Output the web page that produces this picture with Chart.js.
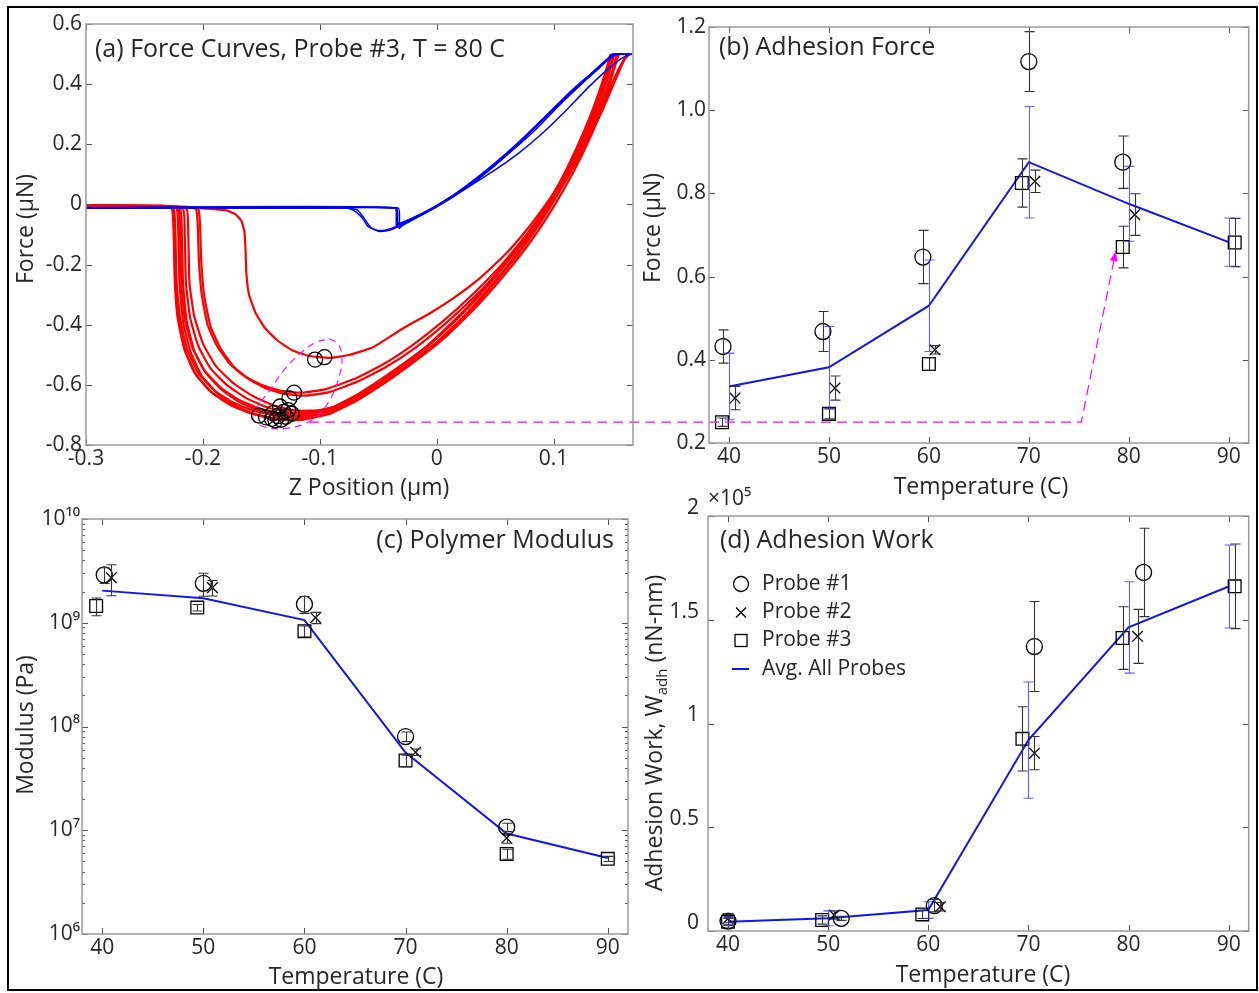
<!DOCTYPE html>
<html>
<head>
<meta charset="utf-8">
<script src="https://cdn.jsdelivr.net/npm/chart.js@4.4.1/dist/chart.umd.min.js"></script>
<style>
  html, body { margin: 0; padding: 0; background: #fff; }
  #page { position: relative; width: 1259px; height: 993px; overflow: hidden; }
  #page canvas { position: absolute; left: 0; top: 0; }
  #frame { position: absolute; left: 7px; top: 6px; width: 1251px; height: 985px; border: 2px solid #000; box-sizing: border-box; }
</style>
</head>
<body>
<div id="page">
  <div id="frame"></div>
  <canvas id="chartA" width="1259" height="993"></canvas>
  <canvas id="chartB" width="1259" height="993"></canvas>
  <canvas id="chartC" width="1259" height="993"></canvas>
  <canvas id="chartD" width="1259" height="993"></canvas>
</div>
<script>
"use strict";

const W = 1259, H = 993;
const FONT = "'Open Sans', 'DejaVu Sans', sans-serif";
const TEXT = '#262626';

// ---------- (a) force curves, probe #3, T = 80 C ----------
const zTicks = [-0.3, -0.2, -0.1, 0, 0.1];
const forceTicksA = [-0.8, -0.6, -0.4, -0.2, 0, 0.2, 0.4, 0.6];

// retraction curves (z, force)
const retractM1 = [[-0.300,-0.004],[-0.235,-0.006],[-0.2265,-0.015],[-0.2250,-0.10],[-0.2240,-0.26],[-0.2215,-0.38],[-0.2160,-0.48],[-0.2070,-0.56],[-0.1940,-0.62],[-0.1780,-0.662],[-0.1600,-0.692],[-0.1400,-0.710],[-0.1200,-0.712],[-0.0950,-0.690],[-0.0700,-0.640],[-0.0400,-0.565],[-0.0100,-0.480],[0.0200,-0.370],[0.0450,-0.260],[0.0680,-0.150],[0.0880,-0.040],[0.1050,0.070],[0.1200,0.190],[0.1320,0.300],[0.1420,0.410],[0.1490,0.500]];
const retractM2 = [[-0.300,-0.004],[-0.235,-0.006],[-0.2250,-0.015],[-0.2235,-0.10],[-0.2225,-0.26],[-0.2195,-0.38],[-0.2135,-0.48],[-0.2040,-0.56],[-0.1905,-0.618],[-0.1745,-0.658],[-0.1565,-0.686],[-0.1370,-0.702],[-0.1170,-0.702],[-0.0920,-0.680],[-0.0670,-0.630],[-0.0370,-0.553],[-0.0070,-0.466],[0.0230,-0.355],[0.0480,-0.245],[0.0710,-0.135],[0.0910,-0.025],[0.1080,0.085],[0.1230,0.200],[0.1350,0.310],[0.1445,0.420],[0.1500,0.500]];
const retractM3 = [[-0.300,-0.005],[-0.235,-0.006],[-0.2225,-0.015],[-0.2210,-0.10],[-0.2200,-0.26],[-0.2170,-0.39],[-0.2105,-0.49],[-0.2010,-0.57],[-0.1870,-0.63],[-0.1710,-0.672],[-0.1530,-0.700],[-0.1340,-0.716],[-0.1140,-0.716],[-0.0900,-0.694],[-0.0660,-0.647],[-0.0380,-0.575],[-0.0080,-0.488],[0.0220,-0.378],[0.0470,-0.268],[0.0700,-0.158],[0.0900,-0.048],[0.1070,0.065],[0.1220,0.180],[0.1340,0.295],[0.1435,0.405],[0.1480,0.490]];
const retractM4 = [[-0.300,-0.004],[-0.235,-0.005],[-0.2210,-0.015],[-0.2195,-0.10],[-0.2185,-0.26],[-0.2155,-0.38],[-0.2090,-0.475],[-0.1990,-0.55],[-0.1850,-0.608],[-0.1690,-0.650],[-0.1510,-0.680],[-0.1320,-0.696],[-0.1120,-0.694],[-0.0870,-0.672],[-0.0620,-0.622],[-0.0330,-0.545],[-0.0030,-0.455],[0.0270,-0.343],[0.0520,-0.232],[0.0740,-0.122],[0.0930,-0.012],[0.1100,0.100],[0.1250,0.215],[0.1370,0.325],[0.1460,0.430],[0.1510,0.500]];
const retractM5 = [[-0.300,-0.005],[-0.235,-0.006],[-0.2195,-0.015],[-0.2180,-0.10],[-0.2170,-0.26],[-0.2140,-0.385],[-0.2075,-0.485],[-0.1975,-0.56],[-0.1835,-0.618],[-0.1675,-0.660],[-0.1495,-0.690],[-0.1305,-0.706],[-0.1105,-0.704],[-0.0860,-0.682],[-0.0610,-0.632],[-0.0320,-0.556],[-0.0020,-0.467],[0.0280,-0.355],[0.0530,-0.244],[0.0750,-0.133],[0.0940,-0.022],[0.1110,0.092],[0.1260,0.208],[0.1380,0.320],[0.1470,0.428],[0.1520,0.500]];
const retractM6 = [[-0.300,-0.004],[-0.235,-0.005],[-0.2170,-0.015],[-0.2155,-0.10],[-0.2145,-0.26],[-0.2110,-0.375],[-0.2040,-0.47],[-0.1935,-0.545],[-0.1790,-0.602],[-0.1625,-0.645],[-0.1440,-0.676],[-0.1250,-0.692],[-0.1050,-0.690],[-0.0810,-0.668],[-0.0570,-0.620],[-0.0290,-0.545],[0.0010,-0.455],[0.0310,-0.343],[0.0560,-0.232],[0.0780,-0.122],[0.0970,-0.010],[0.1140,0.105],[0.1290,0.222],[0.1410,0.335],[0.1500,0.440],[0.1540,0.500]];
const retractM7 = [[-0.300,-0.004],[-0.235,-0.005],[-0.2140,-0.015],[-0.2125,-0.10],[-0.2115,-0.26],[-0.2075,-0.37],[-0.2000,-0.462],[-0.1890,-0.537],[-0.1740,-0.594],[-0.1570,-0.638],[-0.1385,-0.670],[-0.1195,-0.686],[-0.0995,-0.684],[-0.0760,-0.662],[-0.0530,-0.615],[-0.0250,-0.540],[0.0050,-0.450],[0.0340,-0.340],[0.0590,-0.230],[0.0810,-0.120],[0.1000,-0.008],[0.1170,0.108],[0.1320,0.228],[0.1430,0.338],[0.1510,0.440],[0.1560,0.500]];
const retractM8 = [[-0.300,-0.005],[-0.235,-0.006],[-0.2260,-0.015],[-0.2245,-0.10],[-0.2235,-0.26],[-0.2205,-0.385],[-0.2150,-0.485],[-0.2060,-0.565],[-0.1925,-0.625],[-0.1765,-0.667],[-0.1585,-0.696],[-0.1390,-0.712],[-0.1190,-0.712],[-0.0940,-0.690],[-0.0690,-0.642],[-0.0400,-0.568],[-0.0100,-0.480],[0.0200,-0.370],[0.0460,-0.258],[0.0690,-0.147],[0.0890,-0.035],[0.1060,0.078],[0.1210,0.192],[0.1330,0.303],[0.1430,0.412],[0.1490,0.500]];
const retractB1 = [[-0.300,-0.004],[-0.240,-0.006],[-0.2150,-0.008],[-0.2060,-0.015],[-0.2045,-0.060],[-0.2035,-0.180],[-0.2010,-0.300],[-0.1960,-0.400],[-0.1880,-0.470],[-0.1770,-0.530],[-0.1640,-0.572],[-0.1500,-0.600],[-0.1330,-0.620],[-0.1150,-0.626],[-0.0950,-0.614],[-0.0700,-0.580],[-0.0450,-0.530],[-0.0200,-0.466],[0.0050,-0.390],[0.0300,-0.302],[0.0550,-0.203],[0.0770,-0.100],[0.0960,0.000],[0.1130,0.100],[0.1270,0.200],[0.1400,0.300],[0.1510,0.400],[0.1590,0.470],[0.1630,0.500]];
const retractB2 = [[-0.300,-0.004],[-0.240,-0.006],[-0.2130,-0.008],[-0.2040,-0.015],[-0.2025,-0.060],[-0.2015,-0.180],[-0.1990,-0.300],[-0.1935,-0.405],[-0.1850,-0.478],[-0.1740,-0.538],[-0.1610,-0.580],[-0.1470,-0.610],[-0.1300,-0.630],[-0.1120,-0.636],[-0.0920,-0.624],[-0.0680,-0.590],[-0.0430,-0.540],[-0.0180,-0.476],[0.0070,-0.398],[0.0320,-0.308],[0.0570,-0.206],[0.0790,-0.100],[0.0980,0.005],[0.1150,0.110],[0.1290,0.212],[0.1420,0.315],[0.1530,0.415],[0.1600,0.478],[0.1640,0.500]];
const retractA = [[-0.300,-0.004],[-0.240,-0.008],[-0.2000,-0.013],[-0.1800,-0.020],[-0.1720,-0.033],[-0.1670,-0.055],[-0.1645,-0.090],[-0.1635,-0.150],[-0.1628,-0.230],[-0.1605,-0.300],[-0.1550,-0.360],[-0.1470,-0.410],[-0.1370,-0.450],[-0.1240,-0.484],[-0.1090,-0.504],[-0.0920,-0.510],[-0.0740,-0.500],[-0.0540,-0.474],[-0.0300,-0.415],[-0.0050,-0.360],[0.0150,-0.310],[0.0370,-0.245],[0.0590,-0.165],[0.0790,-0.075],[0.0970,0.020],[0.1140,0.120],[0.1290,0.225],[0.1420,0.330],[0.1520,0.420],[0.1600,0.480],[0.1650,0.500]];
const retractCurves = [retractM1, retractM2, retractM3, retractM4, retractM5, retractM6, retractM7, retractM8, retractB1, retractB2, retractA];

// approach curves (z, force)
const approach1 = [[-0.300,-0.012],[-0.100,-0.012],[-0.0355,-0.012],[-0.0345,-0.070],[-0.0320,-0.066],[-0.0200,-0.045],[-0.0050,-0.015],[0.0100,0.020],[0.0240,0.058],[0.0380,0.100],[0.0520,0.145],[0.0670,0.195],[0.0810,0.245],[0.0950,0.300],[0.1090,0.355],[0.1230,0.405],[0.1380,0.452],[0.1510,0.497],[0.1650,0.500]];
const approach2 = [[-0.300,-0.011],[-0.0345,-0.011],[-0.0335,-0.075],[-0.0310,-0.070],[-0.0150,-0.038],[0.0050,0.005],[0.0250,0.055],[0.0450,0.115],[0.0650,0.180],[0.0850,0.250],[0.1050,0.330],[0.1250,0.405],[0.1420,0.465],[0.1500,0.500],[0.1600,0.500]];
const approach3 = [[-0.300,-0.012],[-0.0330,-0.012],[-0.0320,-0.080],[-0.0300,-0.072],[-0.0100,-0.030],[0.0100,0.015],[0.0300,0.065],[0.0500,0.115],[0.0700,0.170],[0.0900,0.235],[0.1100,0.310],[0.1300,0.390],[0.1480,0.455],[0.1600,0.490],[0.1670,0.500]];
const approach4 = [[-0.300,-0.012],[-0.0800,-0.012],[-0.0730,-0.016],[-0.0680,-0.028],[-0.0630,-0.048],[-0.0590,-0.072],[-0.0520,-0.086],[-0.0440,-0.086],[-0.0360,-0.076],[-0.0320,-0.068],[-0.0150,-0.036],[0.0050,0.005],[0.0300,0.070],[0.0550,0.150],[0.0800,0.240],[0.1050,0.335],[0.1300,0.425],[0.1480,0.490],[0.1520,0.500]];
const approach5 = [[-0.300,-0.012],[-0.0750,-0.012],[-0.0680,-0.018],[-0.0640,-0.035],[-0.0600,-0.058],[-0.0560,-0.078],[-0.0480,-0.090],[-0.0400,-0.086],[-0.0330,-0.074],[-0.0200,-0.048],[0.0000,-0.008],[0.0250,0.055],[0.0500,0.130],[0.0750,0.220],[0.1000,0.315],[0.1250,0.405],[0.1450,0.475],[0.1530,0.500]];
const approach6 = [[-0.300,-0.012],[-0.0350,-0.012],[-0.0340,-0.060],[-0.0325,-0.064],[-0.0150,-0.035],[0.0050,0.008],[0.0250,0.060],[0.0500,0.135],[0.0750,0.225],[0.1000,0.320],[0.1250,0.410],[0.1450,0.480],[0.1550,0.500],[0.1670,0.500]];
const approachCurves = [approach1, approach2, approach3, approach4, approach5, approach6];

// adhesion minima picked on each curve
const minZ = [-0.152, -0.146, -0.141, -0.138, -0.136, -0.133, -0.131, -0.129, -0.127, -0.124, -0.140, -0.134, -0.122, -0.126, -0.104, -0.096];
const minF = [-0.702, -0.708, -0.713, -0.718, -0.704, -0.716, -0.690, -0.706, -0.684, -0.696, -0.694, -0.672, -0.626, -0.645, -0.516, -0.508];

// dashed magenta outline round the minima
const ringZ = [-0.092, -0.084, -0.081, -0.084, -0.090, -0.100, -0.112, -0.130, -0.147, -0.157, -0.153, -0.144, -0.130, -0.115, -0.103, -0.092];
const ringF = [-0.447, -0.465, -0.520, -0.580, -0.640, -0.695, -0.728, -0.745, -0.740, -0.715, -0.670, -0.625, -0.548, -0.490, -0.458, -0.447];
const guideAZ = [-0.109, 0.234];
const guideAF = [-0.724, -0.724];

// ---------- shared temperature axis ----------
const tempTicks = [40, 50, 60, 70, 80, 90];
const avgT = [40, 50, 60, 70, 80, 90];
const legendLabels = ['Probe #1', 'Probe #2', 'Probe #3', 'Avg. All Probes'];

// ---------- (b) adhesion force (uN) ----------
const forceTicksB = [0.2, 0.4, 0.6, 0.8, 1.0, 1.2];
const forceP1T = [39.4, 49.4, 59.4, 70.0, 79.4];
const forceP1 = [0.432, 0.468, 0.647, 1.117, 0.875];
const forceP1Err = [0.040, 0.048, 0.064, 0.072, 0.063];
const forceP2T = [40.6, 50.6, 60.6, 70.6, 80.6];
const forceP2 = [0.308, 0.332, 0.424, 0.829, 0.749];
const forceP2Err = [0.028, 0.029, 0.010, 0.027, 0.050];
const forceP3T = [39.3, 50.0, 60.0, 69.3, 79.4, 90.6];
const forceP3 = [0.250, 0.270, 0.390, 0.825, 0.671, 0.682];
const forceP3Err = [0.010, 0.012, 0.015, 0.058, 0.050, 0.058];
const forceAvg = [0.336, 0.382, 0.530, 0.875, 0.775, 0.683];
const forceAvgErr = [0.080, 0.098, 0.110, 0.134, 0.090, 0.058];
const guideBT = [38, 75.25, 78.7];
const guideBF = [0.25, 0.25, 0.661];

// ---------- (c) polymer modulus (Pa) ----------
const modulusTicks = [1e6, 1e7, 1e8, 1e9, 1e10];
const modP1T = [40.2, 50.0, 60.0, 70.0, 80.0];
const modP1 = [2.89e9, 2.40e9, 1.51e9, 8.0e7, 1.07e7];
const modP1Err = [0.5e9, 0.6e9, 0.28e9, 0.85e7, 0.1e7];
const modP2T = [40.9, 50.9, 61.1, 71.0, 80.0];
const modP2 = [2.72e9, 2.18e9, 1.12e9, 5.66e7, 8.4e6];
const modP2Err = [0.9e9, 0.37e9, 0.14e9, 0.4e7, 0.9e6];
const modP3T = [39.4, 49.4, 60.0, 70.0, 80.0, 90.0];
const modP3 = [1.45e9, 1.40e9, 8.3e8, 4.7e7, 5.9e6, 5.3e6];
const modP3Err = [0.28e9, 0.1e9, 1.0e8, 0.6e7, 0.65e6, 0.3e6];
const modAvg = [2.04e9, 1.72e9, 1.06e9, 5.6e7, 9.3e6, 5.4e6];

// ---------- (d) adhesion work (x 1e5 nN-nm) ----------
const workTicks = [0, 0.5, 1, 1.5, 2];
const workP1T = [40.0, 51.3, 60.6, 70.6, 81.5];
const workP1 = [0.048, 0.061, 0.122, 1.371, 1.728];
const workP1Err = [0.020, 0.010, 0.030, 0.217, 0.213];
const workP2T = [40.0, 50.6, 61.2, 70.6, 80.9];
const workP2 = [0.060, 0.077, 0.117, 0.857, 1.420];
const workP2Err = [0.020, 0.020, 0.020, 0.080, 0.130];
const workP3T = [40.0, 49.4, 59.4, 69.4, 79.4, 90.6];
const workP3 = [0.045, 0.053, 0.080, 0.926, 1.412, 1.661];
const workP3Err = [0.015, 0.020, 0.020, 0.155, 0.151, 0.204];
const workAvg = [0.045, 0.061, 0.101, 0.920, 1.463, 1.660];
const workAvgErr = [0.020, 0.036, 0.040, 0.280, 0.220, 0.200];

// ---------- helpers ----------
const SUP = { '0': '\u2070', '1': '\u00b9', '2': '\u00b2', '3': '\u00b3', '4': '\u2074', '5': '\u2075', '6': '\u2076', '7': '\u2077', '8': '\u2078', '9': '\u2079' };
const sup = n => String(n).split('').map(c => SUP[c]).join('');
const pts = (xs, ys) => xs.map((x, i) => ({ x, y: ys[i] }));
const pairs = c => c.map(([x, y]) => ({ x, y }));
const fmtShort = v => (Math.abs(v) < 1e-9 ? '0' : String(Math.round(v * 10) / 10));

Chart.defaults.font.family = FONT;
Chart.defaults.color = TEXT;

function xAxis(min, max, ticks, fmt) {
  return {
    type: 'linear', min, max,
    grid: { display: false, drawTicks: false },
    border: { display: false },
    afterBuildTicks: s => { s.ticks = ticks.map(v => ({ value: v })); },
    afterFit: s => { s.height = 40; },
    ticks: { callback: fmt, padding: 1, autoSkip: false, maxRotation: 0, font: { size: 21 } }
  };
}

function yAxis(type, min, max, ticks, fmt, pad, shift) {
  return {
    type, min, max,
    grid: { display: false, drawTicks: false },
    border: { display: false },
    afterBuildTicks: s => { s.ticks = ticks.map(v => ({ value: v })); },
    afterFit: s => { s.width = 80; },
    ticks: { callback: fmt, padding: pad, labelOffset: shift || 0, autoSkip: false, font: { size: 21 } }
  };
}

function padFor(area) {
  return { left: area.l - 80, top: area.t, right: W - area.r, bottom: H - area.b - 40 };
}

function probeSet(xs, ys, errs, style, radius) {
  return {
    data: pts(xs, ys), errors: errs, errorColor: '#333',
    showLine: false, pointStyle: style, pointRadius: radius,
    pointBorderColor: '#000', pointBackgroundColor: 'rgba(0,0,0,0)', pointBorderWidth: 1.3, order: 1
  };
}

function avgSet(ys, errs) {
  return {
    data: pts(avgT, ys), errors: errs, errorColor: 'rgba(40,40,255,0.75)',
    showLine: true, borderColor: '#1414f0', borderWidth: 2, pointRadius: 0, order: 2
  };
}

// box, inside ticks and free text
const decor = {
  id: 'decor',
  afterDraw(chart, args, o) {
    const ctx = chart.ctx;
    const a = chart.chartArea;
    const sx = chart.scales.x, sy = chart.scales.y;
    ctx.save();
    ctx.strokeStyle = '#555';
    ctx.lineWidth = 1;
    ctx.beginPath();
    sx.ticks.forEach(t => {
      const p = Math.round(sx.getPixelForValue(t.value)) + 0.5;
      ctx.moveTo(p, a.bottom); ctx.lineTo(p, a.bottom - 6);
      ctx.moveTo(p, a.top); ctx.lineTo(p, a.top + 6);
    });
    sy.ticks.forEach(t => {
      const p = Math.round(sy.getPixelForValue(t.value)) + 0.5;
      ctx.moveTo(a.left, p); ctx.lineTo(a.left + 6, p);
      ctx.moveTo(a.right, p); ctx.lineTo(a.right - 6, p);
    });
    if (sy.type === 'logarithmic') {
      for (let d = Math.log10(sy.min); d < Math.log10(sy.max); d++) {
        for (let m = 2; m < 10; m++) {
          const p = Math.round(sy.getPixelForValue(m * Math.pow(10, d))) + 0.5;
          ctx.moveTo(a.left, p); ctx.lineTo(a.left + 3, p);
          ctx.moveTo(a.right, p); ctx.lineTo(a.right - 3, p);
        }
      }
    }
    ctx.stroke();
    ctx.strokeStyle = '#9a9a9a';
    ctx.lineWidth = 1.5;
    ctx.strokeRect(a.left, a.top, a.right - a.left, a.bottom - a.top);

    ctx.fillStyle = TEXT;
    ctx.textBaseline = 'middle';
    (o.texts || []).forEach(t => {
      ctx.save();
      ctx.font = t.size + 'px ' + FONT;
      ctx.textAlign = t.align || 'center';
      ctx.translate(t.x, t.y);
      if (t.rot) ctx.rotate(-Math.PI / 2);
      ctx.fillText(t.text, 0, 0);
      ctx.restore();
    });
    ctx.restore();
  }
};

// vertical error bars with caps, read from dataset.errors
const errorBars = {
  id: 'errorBars',
  afterDatasetsDraw(chart) {
    const ctx = chart.ctx;
    const sx = chart.scales.x, sy = chart.scales.y;
    chart.data.datasets.forEach(ds => {
      if (!ds.errors) return;
      ctx.save();
      ctx.strokeStyle = ds.errorColor;
      ctx.lineWidth = 1.1;
      ctx.beginPath();
      ds.data.forEach((p, j) => {
        const e = ds.errors[j];
        const x = Math.round(sx.getPixelForValue(p.x)) + 0.5;
        const y1 = sy.getPixelForValue(p.y - e);
        const y2 = sy.getPixelForValue(p.y + e);
        ctx.moveTo(x, y1); ctx.lineTo(x, y2);
        ctx.moveTo(x - 5, y1); ctx.lineTo(x + 5, y1);
        ctx.moveTo(x - 5, y2); ctx.lineTo(x + 5, y2);
      });
      ctx.stroke();
      ctx.restore();
    });
  }
};

function baseOptions(area, xScale, yScale, texts) {
  return {
    responsive: false,
    animation: false,
    events: [],
    layout: { padding: padFor(area) },
    plugins: { legend: { display: false }, tooltip: { enabled: false }, decor: { texts } },
    scales: { x: xScale, y: yScale }
  };
}

// ---------- chart (a) ----------
const areaA = { l: 86, t: 24, r: 633, b: 445 };
const dsA = [];
dsA.push({ data: pts(minZ, minF), showLine: false, pointStyle: 'circle', pointRadius: 7.5,
  pointBorderColor: '#000', pointBackgroundColor: 'rgba(0,0,0,0)', pointBorderWidth: 1.3, order: 0 });
dsA.push({ data: pts(ringZ, ringF), showLine: true, borderColor: '#ff00ff', borderWidth: 1.1,
  borderDash: [7, 5], tension: 0.4, pointRadius: 0, order: 1 });
dsA.push({ data: pts(guideAZ, guideAF), showLine: true, borderColor: '#ff00ff', borderWidth: 1.2,
  borderDash: [10, 6], pointRadius: 0, clip: false, order: 1 });
approachCurves.forEach(c => dsA.push({ data: pairs(c), showLine: true, borderColor: '#0000ff',
  borderWidth: 1.5, tension: 0.15, pointRadius: 0, order: 2 }));
retractCurves.forEach(c => dsA.push({ data: pairs(c), showLine: true, borderColor: '#ff0000',
  borderWidth: 2.2, tension: 0.15, pointRadius: 0, order: 3 }));

new Chart(document.getElementById('chartA'), {
  type: 'scatter',
  data: { datasets: dsA },
  options: baseOptions(areaA,
    xAxis(-0.3, 0.168, zTicks, fmtShort),
    yAxis('linear', -0.8, 0.6, forceTicksA, fmtShort, 4),
    [
      { text: '(a) Force Curves, Probe #3, T = 80 C', x: 95, y: 50, size: 25, align: 'left' },
      { text: 'Z Position (\u00b5m)', x: 369, y: 488, size: 23 },
      { text: 'Force (\u00b5N)', x: 26, y: 229, size: 23, rot: true }
    ]),
  plugins: [decor]
});

// ---------- chart (b) ----------
const areaB = { l: 709, t: 27, r: 1252, b: 443 };
const arrowHead = {
  id: 'arrowHead',
  afterDatasetsDraw(chart) {
    const meta = chart.getDatasetMeta(0);
    const n = meta.data.length;
    const p1 = meta.data[n - 2], p2 = meta.data[n - 1];
    const ang = Math.atan2(p2.y - p1.y, p2.x - p1.x);
    const ctx = chart.ctx;
    ctx.save();
    ctx.fillStyle = '#ff00ff';
    ctx.translate(p2.x, p2.y);
    ctx.rotate(ang);
    ctx.beginPath();
    ctx.moveTo(0, 0); ctx.lineTo(-10, -4); ctx.lineTo(-10, 4); ctx.closePath();
    ctx.fill();
    ctx.restore();
  }
};

new Chart(document.getElementById('chartB'), {
  type: 'scatter',
  data: {
    datasets: [
      { data: pts(guideBT, guideBF), showLine: true, borderColor: '#ff00ff', borderWidth: 1.2,
        borderDash: [10, 6], pointRadius: 0, clip: false, order: 0 },
      probeSet(forceP1T, forceP1, forceP1Err, 'circle', 8),
      probeSet(forceP2T, forceP2, forceP2Err, 'crossRot', 7.5),
      probeSet(forceP3T, forceP3, forceP3Err, 'rect', 9),
      avgSet(forceAvg, forceAvgErr)
    ]
  },
  options: baseOptions(areaB,
    xAxis(38, 92, tempTicks, v => String(v)),
    yAxis('linear', 0.2, 1.2, forceTicksB, v => v.toFixed(1), 3),
    [
      { text: '(b) Adhesion Force', x: 719, y: 48, size: 25, align: 'left' },
      { text: 'Temperature (C)', x: 981, y: 487, size: 23 },
      { text: 'Force (\u00b5N)', x: 653, y: 228, size: 23, rot: true }
    ]),
  plugins: [decor, errorBars, arrowHead]
});

// ---------- chart (c) ----------
const areaC = { l: 82, t: 519, r: 628, b: 934 };
new Chart(document.getElementById('chartC'), {
  type: 'scatter',
  data: {
    datasets: [
      probeSet(modP1T, modP1, modP1Err, 'circle', 8),
      probeSet(modP2T, modP2, modP2Err, 'crossRot', 7.5),
      probeSet(modP3T, modP3, modP3Err, 'rect', 9),
      avgSet(modAvg, null)
    ]
  },
  options: baseOptions(areaC,
    xAxis(38, 92, tempTicks, v => String(v)),
    yAxis('logarithmic', 1e6, 1e10, modulusTicks, v => '10' + sup(Math.round(Math.log10(v))), 2),
    [
      { text: '(c) Polymer Modulus', x: 614, y: 541, size: 25, align: 'right' },
      { text: 'Temperature (C)', x: 356, y: 977, size: 23 },
      { text: 'Modulus (Pa)', x: 26, y: 725, size: 23, rot: true }
    ]),
  plugins: [decor, errorBars]
});

// ---------- chart (d) ----------
const areaD = { l: 708, t: 516, r: 1256, b: 931 };
const workExtras = {
  id: 'workExtras',
  afterDraw(chart) {
    const ctx = chart.ctx;
    ctx.save();
    ctx.fillStyle = TEXT;
    ctx.strokeStyle = '#000';
    ctx.textBaseline = 'middle';
    ctx.textAlign = 'left';

    // legend
    const rows = [584, 612.5, 640.5, 669];
    const mx = 741;
    ctx.lineWidth = 1.3;
    ctx.beginPath(); ctx.arc(mx, rows[0], 7.5, 0, Math.PI * 2); ctx.stroke();
    ctx.beginPath();
    ctx.moveTo(mx - 5, rows[1] - 5); ctx.lineTo(mx + 5, rows[1] + 5);
    ctx.moveTo(mx - 5, rows[1] + 5); ctx.lineTo(mx + 5, rows[1] - 5);
    ctx.stroke();
    ctx.strokeRect(mx - 6, rows[2] - 6, 12, 12);
    ctx.strokeStyle = '#1414f0';
    ctx.lineWidth = 2;
    ctx.beginPath(); ctx.moveTo(mx - 9, rows[3]); ctx.lineTo(mx + 8, rows[3]); ctx.stroke();
    ctx.font = '21px ' + FONT;
    legendLabels.forEach((t, i) => ctx.fillText(t, 762, rows[i]));

    // y title with subscript
    ctx.translate(655, 733);
    ctx.rotate(-Math.PI / 2);
    const big = '23px ' + FONT, small = '15px ' + FONT;
    const p1 = 'Adhesion Work, W', p2 = 'adh', p3 = ' (nN-nm)';
    ctx.font = big; const w1 = ctx.measureText(p1).width, w3 = ctx.measureText(p3).width;
    ctx.font = small; const w2 = ctx.measureText(p2).width;
    let x0 = -(w1 + w2 + w3) / 2;
    ctx.font = big; ctx.fillText(p1, x0, 0);
    ctx.font = small; ctx.fillText(p2, x0 + w1, 8);
    ctx.font = big; ctx.fillText(p3, x0 + w1 + w2, 0);
    ctx.restore();
  }
};

new Chart(document.getElementById('chartD'), {
  type: 'scatter',
  data: {
    datasets: [
      probeSet(workP1T, workP1, workP1Err, 'circle', 8),
      probeSet(workP2T, workP2, workP2Err, 'crossRot', 7.5),
      probeSet(workP3T, workP3, workP3Err, 'rect', 9),
      avgSet(workAvg, workAvgErr)
    ]
  },
  options: baseOptions(areaD,
    xAxis(38, 92, tempTicks, v => String(v)),
    yAxis('linear', 0, 2, workTicks, v => String(v), 9, -8),
    [
      { text: '(d) Adhesion Work', x: 720, y: 541, size: 25, align: 'left' },
      { text: 'Temperature (C)', x: 983, y: 975, size: 23 },
      { text: '\u00d710' + sup(5), x: 708, y: 499, size: 21, align: 'left' }
    ]),
  plugins: [decor, errorBars, workExtras]
});
</script>
</body>
</html>
